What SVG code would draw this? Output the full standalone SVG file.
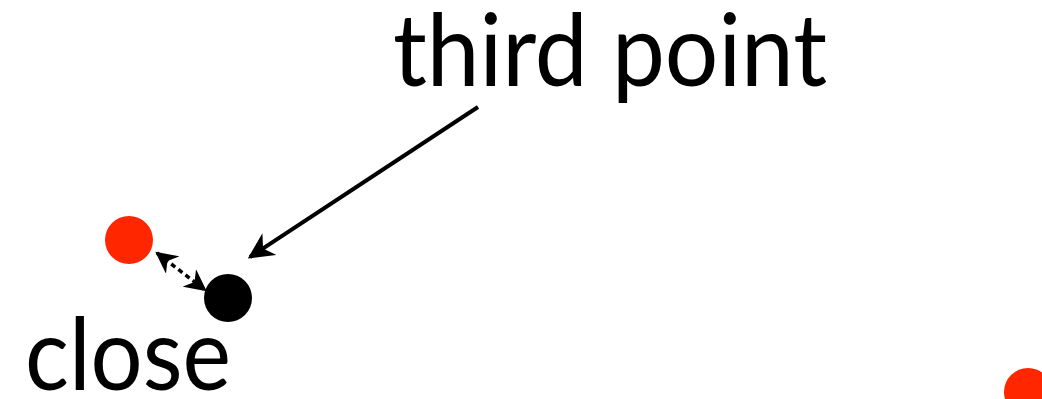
<svg xmlns="http://www.w3.org/2000/svg" width="1042" height="399" viewBox="0 0 1042 399">
<style>
.lbl{font-family:Lato,"Open Sans","Liberation Sans",sans-serif;font-size:101px;fill:#000}
.red{fill:#ff2600}
.blk{fill:#000}
.conn{stroke:#000;stroke-width:4;fill:none}
.dash{stroke:#000;stroke-width:3.5;fill:none;stroke-dasharray:5 4}
</style>
<defs>
<marker id="ah" viewBox="0 0 10 10" refX="9" refY="5" markerWidth="26" markerHeight="26" markerUnits="userSpaceOnUse" orient="auto-start-reverse">
<path d="M0,0 L10,5 L0,10 L3,5 Z" fill="#000"/>
</marker>
<marker id="ahs" viewBox="0 0 10 10" refX="9" refY="5" markerWidth="22" markerHeight="22" markerUnits="userSpaceOnUse" orient="auto-start-reverse">
<path d="M0,0 L10,5 L0,10 L3,5 Z" fill="#000"/>
</marker>
</defs>
<g id="label-third-point"><text class="lbl" x="393" y="86" textLength="434" lengthAdjust="spacingAndGlyphs">third point</text></g>
<g id="label-close"><text class="lbl" x="25" y="390" textLength="206" lengthAdjust="spacingAndGlyphs">close</text></g>
<g id="red-point"><circle class="red" cx="129" cy="240" r="24"/></g>
<g id="black-point"><circle class="blk" cx="228" cy="298" r="24"/></g>
<g id="red-point-2"><circle class="red" cx="1028" cy="392" r="24"/></g>
<g id="connectors">
<line class="conn" x1="478" y1="107" x2="250" y2="257" marker-end="url(#ah)"/>
<line class="dash" x1="157" y1="253" x2="205" y2="290" marker-start="url(#ahs)" marker-end="url(#ahs)"/>
</g>
</svg>
